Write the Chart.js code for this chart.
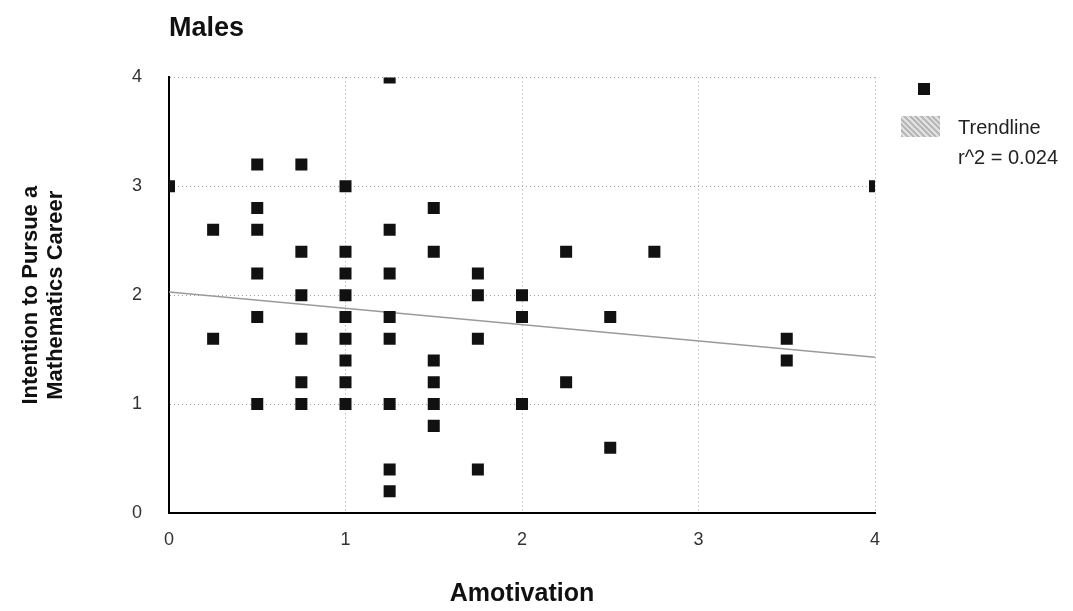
<!DOCTYPE html>
<html>
<head>
<meta charset="utf-8">
<script src="https://cdn.jsdelivr.net/npm/chart.js@4.4.1/dist/chart.umd.min.js"></script>
<style>
body { margin: 0; background: #fff; }
#wrap { position: relative; width: 1073px; height: 611px; font-family: "Liberation Sans", Arial, sans-serif; }
.legMarker { position: absolute; left: 918px; top: 83px; width: 12px; height: 12px; background: #111; }
.legPatch { position: absolute; left: 901px; top: 116px; width: 39px; height: 21px;
  background: repeating-linear-gradient(45deg, #b8b8b8 0 2px, #e2e2e2 2px 4px); }
.legText { position: absolute; left: 958px; font-size: 20px; color: #222; line-height: 1; white-space: nowrap; }
</style>
</head>
<body>
<div id="wrap">
  <canvas id="scatterChart" width="1073" height="611"></canvas>
  <div class="legMarker"></div>
  <div class="legPatch"></div>
  <div class="legText" style="top:117px">Trendline</div>
  <div class="legText" style="top:147px">r^2 = 0.024</div>
</div>
<script>
// valores (Amotivation, Intention)
const amotivation = [0,
  0.25, 0.25,
  0.5, 0.5, 0.5, 0.5, 0.5, 0.5,
  0.75, 0.75, 0.75, 0.75, 0.75, 0.75,
  1, 1, 1, 1, 1, 1, 1, 1, 1,
  1.25, 1.25, 1.25, 1.25, 1.25, 1.25, 1.25, 1.25,
  1.5, 1.5, 1.5, 1.5, 1.5, 1.5,
  1.75, 1.75, 1.75, 1.75,
  2, 2, 2,
  2.25, 2.25,
  2.5, 2.5,
  2.75,
  3.5, 3.5,
  4];
const intention = [3,
  2.6, 1.6,
  3.2, 2.8, 2.6, 2.2, 1.8, 1.0,
  3.2, 2.4, 2.0, 1.6, 1.2, 1.0,
  3.0, 2.4, 2.2, 2.0, 1.8, 1.6, 1.4, 1.2, 1.0,
  4.0, 2.6, 2.2, 1.8, 1.6, 1.0, 0.4, 0.2,
  2.8, 2.4, 1.4, 1.2, 1.0, 0.8,
  2.2, 2.0, 1.6, 0.4,
  2.0, 1.8, 1.0,
  2.4, 1.2,
  1.8, 0.6,
  2.4,
  1.6, 1.4,
  3.0];
// linea de tendencia (extremos)
const trendX = [0, 4];
const trendY = [2.03, 1.43];
const xTicks = [0, 1, 2, 3, 4];
const yTicks = [0, 1, 2, 3, 4];

const fontFamily = '"Liberation Sans", Arial, sans-serif';

const points = amotivation.map((x, i) => ({ x: x, y: intention[i] }));
const trend = trendX.map((x, i) => ({ x: x, y: trendY[i] }));

const ctx = document.querySelector('#scatterChart');

new Chart(ctx, {
  type: 'scatter',
  data: {
    datasets: [{
      label: 'Males',
      data: points,
      pointStyle: 'rect',
      pointRadius: 8.5,
      pointHoverRadius: 8.5,
      backgroundColor: '#111',
      borderColor: '#111',
      borderWidth: 0,
      order: 1
    }, {
      label: 'Trendline',
      type: 'line',
      data: trend,
      borderColor: '#9a9a9a',
      borderWidth: 1.5,
      pointRadius: 0,
      fill: false,
      order: 2
    }]
  },
  options: {
    responsive: false,
    animation: false,
    devicePixelRatio: 1,
    layout: { padding: { top: 12, right: 198, left: 0, bottom: 0 } },
    plugins: {
      legend: { display: false },
      tooltip: { enabled: false },
      title: {
        display: true,
        text: 'Males',
        align: 'start',
        fullSize: false,
        color: '#111',
        font: { family: fontFamily, size: 27, weight: 'bold' },
        padding: { top: 0, bottom: 33 }
      }
    },
    scales: {
      x: {
        type: 'linear',
        min: 0,
        max: 4,
        afterBuildTicks: (scale) => { scale.ticks = xTicks.map(v => ({ value: v })); },
        afterFit: (scale) => { scale.height = 98; },
        ticks: { color: '#333', padding: 16, font: { family: fontFamily, size: 18 } },
        grid: { color: '#a0a0a0', lineWidth: 1, drawTicks: false },
        border: { display: true, color: '#000', width: 2, dash: [1, 3] },
        title: {
          display: true,
          text: 'Amotivation',
          color: '#111',
          font: { family: fontFamily, size: 25, weight: 'bold' },
          padding: { top: 0, bottom: 2 }
        }
      },
      y: {
        min: 0,
        max: 4,
        afterBuildTicks: (scale) => { scale.ticks = yTicks.map(v => ({ value: v })); },
        afterFit: (scale) => { scale.width = 169; },
        ticks: { color: '#333', padding: 27, font: { family: fontFamily, size: 18 } },
        grid: { color: '#a0a0a0', lineWidth: 1, drawTicks: false },
        border: { display: true, color: '#000', width: 2, dash: [1, 3] },
        title: {
          display: true,
          text: ['Intention to Pursue a', 'Mathematics Career'],
          color: '#111',
          font: { family: fontFamily, size: 22, weight: 'bold', lineHeight: 1.15 },
          padding: { top: 18, bottom: 0 }
        }
      }
    }
  }
});
</script>
</body>
</html>
